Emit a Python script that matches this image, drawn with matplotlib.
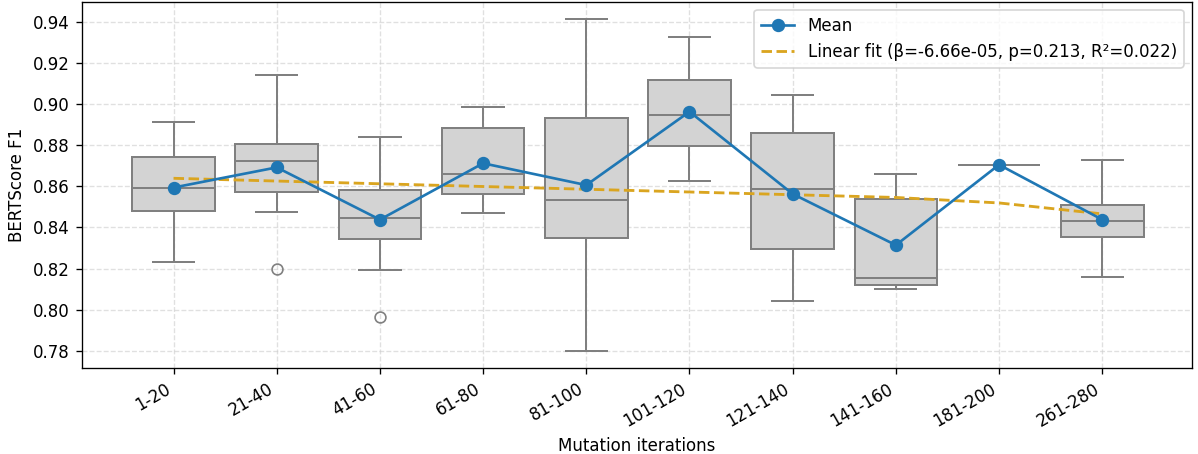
import matplotlib
matplotlib.use("Agg")
import matplotlib.pyplot as plt
import numpy as np

categories = ["1-20", "21-40", "41-60", "61-80", "81-100", "101-120",
              "121-140", "141-160", "181-200", "261-280"]
bin_mid = [10.5, 30.5, 50.5, 70.5, 90.5, 110.5, 130.5, 150.5, 190.5, 270.5]

whislo = [0.8230, 0.8476, 0.8194, 0.8472, 0.7797, 0.8624, 0.8040, 0.8103, 0.8705, 0.8160]
q1     = [0.8478, 0.8570, 0.8343, 0.8564, 0.8351, 0.8798, 0.8293, 0.8118, 0.8705, 0.8353]
med    = [0.8592, 0.8721, 0.8444, 0.8658, 0.8535, 0.8949, 0.8588, 0.8155, 0.8705, 0.8429]
q3     = [0.8743, 0.8806, 0.8584, 0.8882, 0.8933, 0.9116, 0.8861, 0.8536, 0.8705, 0.8511]
whishi = [0.8915, 0.9139, 0.8842, 0.8988, 0.9416, 0.9328, 0.9043, 0.8658, 0.8705, 0.8728]
fliers = [[], [0.8197], [0.7965], [], [], [], [], [], [], []]
means  = [0.8594, 0.8692, 0.8438, 0.8712, 0.8606, 0.8963, 0.8563, 0.8314, 0.8705, 0.8438]

fit_slope = -6.66e-05
fit_intercept = 0.8646
fit_p = 0.213
fit_r2 = 0.022

fig = plt.figure(figsize=(1198 / 120, 454 / 120), dpi=120)
ax = fig.add_axes([0.0682, 0.1888, 0.995 - 0.0682, 0.9963 - 0.1888])

stats = []
for i in range(len(categories)):
    stats.append(dict(whislo=whislo[i], q1=q1[i], med=med[i], q3=q3[i],
                      whishi=whishi[i], fliers=fliers[i], label=categories[i]))

pos = np.arange(len(categories))
gray = "#808080"
ax.bxp(stats, positions=pos, widths=0.8, patch_artist=True, showfliers=True,
       boxprops=dict(facecolor="#d3d3d3", edgecolor=gray, linewidth=1.2),
       whiskerprops=dict(color=gray, linewidth=1.2),
       capprops=dict(color=gray, linewidth=1.2),
       medianprops=dict(color=gray, linewidth=1.2),
       flierprops=dict(marker="o", markerfacecolor="none", markeredgecolor=gray,
                       markersize=6.5, markeredgewidth=1.0),
       capwidths=0.4, zorder=2)

ax.plot(pos, means, "-o", color="#1f77b4", linewidth=1.6, markersize=7,
        label="Mean", zorder=4)

fit_vals = [fit_intercept + fit_slope * m for m in bin_mid]
ax.plot(pos, fit_vals, "--", color="#DAA520", linewidth=1.7,
        label=f"Linear fit (β={fit_slope:.2e}, p={fit_p:.3f}, R²={fit_r2:.3f})",
        zorder=3)

ax.set_xlim(-0.89, 9.87)
ax.set_ylim(0.7715, 0.9498)
ax.set_yticks([0.78, 0.80, 0.82, 0.84, 0.86, 0.88, 0.90, 0.92, 0.94])
ax.set_xticks(pos)
ax.set_xticklabels(categories, rotation=30, ha="right")
ax.grid(True, linestyle="--", color="#cccccc", alpha=0.6, linewidth=0.8)
ax.set_axisbelow(True)
ax.set_xlabel("Mutation iterations")
ax.set_ylabel("BERTScore F1")
ax.legend(loc="upper right", fontsize=10)

fig.savefig("out.png", dpi=120)
